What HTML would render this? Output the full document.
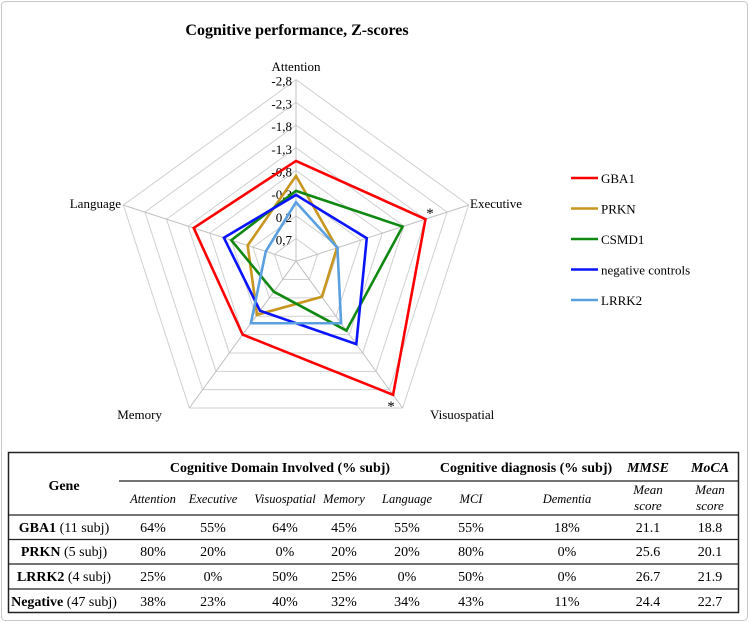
<!DOCTYPE html>
<html><head><meta charset="utf-8"><style>
html,body{margin:0;padding:0;background:#fff;}
svg{display:block;font-family:"Liberation Serif",serif;}
</style></head><body>
<svg id="chart" width="749" height="622" viewBox="0 0 749 622">
<rect x="1.5" y="1.5" width="746" height="619" rx="4" fill="#fff" stroke="#c8c8c8"/>
<text x="297" y="35" text-anchor="middle" font-size="16" font-weight="bold">Cognitive performance, Z-scores</text>
<g id="grid"></g>
<g id="series"></g>
<g id="labels"></g>
<g id="legend"></g>
<text x="430" y="218" font-size="15" text-anchor="middle">*</text>
<text x="391" y="411" font-size="15" text-anchor="middle">*</text>
<g id="table"></g>
</svg>
<script>
const axes = ["Attention","Executive","Visuospatial","Memory","Language"];
const ticks = [0.7,0.2,-0.3,-0.8,-1.3,-1.8,-2.3,-2.8];
const tickLabels = ["0,7","0,2","-0,3","-0,8","-1,3","-1,8","-2,3","-2,8"];
const seriesNames = ["GBA1","PRKN","CSMD1","negative controls","LRRK2"];
const seriesColors = ["#ff0000","#c8961e","#118811","#0a14ff","#5aa0e0"];
const gba1 = [-1.01,-1.8,-2.44,-0.8,-1.17];
const prkn = [-0.68,0.25,0.23,-0.26,0.08];
const csmd1 = [-0.35,-1.27,-0.69,0.37,-0.3];
const negControls = [-0.26,-0.44,-1.06,-0.15,-0.47];
const lrrk2 = [-0.1,0.24,-0.49,-0.49,0.5];
const allSeries = [gba1,prkn,csmd1,negControls,lrrk2];
const vCenter = 1.2, vOuter = -2.8;
const cx = 296, cy = 261.2, R = 181.5;
const NS = "http://www.w3.org/2000/svg";
function mk(tag, attrs, parent){const e=document.createElementNS(NS,tag);for(const k in attrs)e.setAttribute(k,attrs[k]);parent.appendChild(e);return e;}
function rScale(v){return (vCenter - v)/(vCenter - vOuter)*R;}
function pt(i,r){const a=i*2*Math.PI/axes.length;return [cx+r*Math.sin(a), cy-r*Math.cos(a)];}
const grid=document.getElementById('grid');
ticks.forEach((t,k)=>{
  const r=rScale(t);
  const p=mk('polygon',{points:axes.map((_,i)=>pt(i,r).join(',')).join(' '),fill:'none',stroke:'#d0d0d0','stroke-width':1},grid);
  
  
  const tl=mk('text',{x:cx-4,y:cy-r+6,'text-anchor':'end','font-size':13},grid);
  tl.textContent=tickLabels[k];
  
  
});
axes.forEach((a,i)=>{
  const [x,y]=pt(i,R);
  const l=mk('line',{x1:cx,y1:cy,x2:x,y2:y,stroke:'#c0c0c0','stroke-width':1},grid);
  
  
});
const sg=document.getElementById('series');
allSeries.forEach((vals,s)=>{
  const p=mk('polygon',{points:vals.map((v,i)=>pt(i,rScale(v)).join(',')).join(' '),fill:'none',stroke:seriesColors[s],'stroke-width':2.6,'stroke-linejoin':'miter'},sg);
  
  
});
const labelPos=[[296,71,'middle'],[470,208,'start'],[430,419,'start'],[162,419,'end'],[121,208,'end']];
const lg=document.getElementById('labels');
axes.forEach((a,i)=>{
  const t=mk('text',{x:labelPos[i][0],y:labelPos[i][1],'text-anchor':labelPos[i][2],'font-size':13},lg);
  t.textContent=a;
  
  
});
const leg=document.getElementById('legend');
seriesNames.forEach((n,s)=>{
  const y=178+s*30.5;
  const l=mk('line',{x1:571,y1:y,x2:598,y2:y,stroke:seriesColors[s],'stroke-width':2.6},leg);
  
  
  const t=mk('text',{x:601,y:y+5,'font-size':13},leg);
  t.textContent=n;
  
  
});
const tb=document.getElementById('table');
const geneNames=["GBA1","PRKN","LRRK2","Negative"];
const geneSubj=[" (11 subj)"," (5 subj)"," (4 subj)"," (47 subj)"];
const tableRows=[
 ["64%","55%","64%","45%","55%","55%","18%","21.1","18.8"],
 ["80%","20%","0%","20%","20%","80%","0%","25.6","20.1"],
 ["25%","0%","50%","25%","0%","50%","0%","26.7","21.9"],
 ["38%","23%","40%","32%","34%","43%","11%","24.4","22.7"]];
const subHeads=["Attention","Executive","Visuospatial","Memory","Language","MCI","Dementia"];
const colX=[153,213,285,344,407,471,567,648,710];
mk('rect',{x:8.5,y:452.5,width:730,height:160,fill:'none',stroke:'#222','stroke-width':1.5},tb);
mk('line',{x1:119,y1:481,x2:738,y2:481,stroke:'#222','stroke-width':1.2},tb);
[515,539.5,564,589].forEach(y=>mk('line',{x1:8.5,y1:y,x2:738.5,y2:y,stroke:'#222','stroke-width':1.2},tb));
function tx(x,y,s,opt){const t=mk('text',Object.assign({x:x,y:y,'text-anchor':'middle','font-size':14},opt||{}),tb);t.textContent=s;return t;}
let t;
t=tx(64,490,"Gene",{'font-weight':'bold'});
t=tx(280,472,"Cognitive Domain Involved (% subj)",{'font-weight':'bold'});
t=tx(526,472,"Cognitive diagnosis (% subj)",{'font-weight':'bold'});
t=tx(648,472,"MMSE",{'font-weight':'bold','font-style':'italic'});
t=tx(710,472,"MoCA",{'font-weight':'bold','font-style':'italic'});
subHeads.forEach((h,i)=>{t=tx(colX[i],503,h,{'font-style':'italic','font-size':12.5});});
[648,710].forEach(x=>{t=tx(x,494,"Mean",{'font-style':'italic','font-size':13});
 t=tx(x,510,"score",{'font-style':'italic','font-size':13});});
const rowY=[532,556,581,606];
tableRows.forEach((row,r)=>{
  const g=mk('text',{x:64,y:rowY[r],'text-anchor':'middle','font-size':14},tb);
  const b=mk('tspan',{'font-weight':'bold'},g);b.textContent=geneNames[r];
  const s=mk('tspan',{},g);s.textContent=geneSubj[r];
  
  
  row.forEach((v,c)=>{t=tx(colX[c],rowY[r],v,{'font-size':14});
    
    });
});
</script>
</body></html>
